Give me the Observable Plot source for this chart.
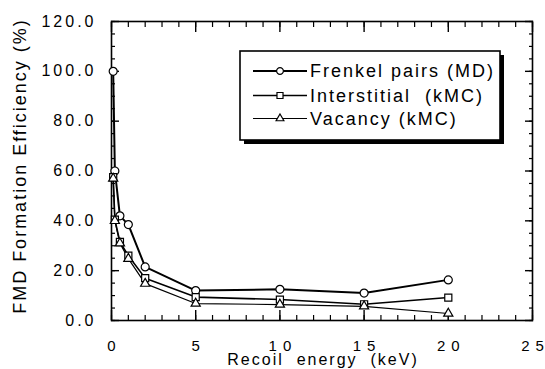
<!DOCTYPE html>
<html>
<head>
<meta charset="utf-8">
<script src="https://cdn.jsdelivr.net/npm/d3@7"></script>
<script src="https://cdn.jsdelivr.net/npm/@observablehq/plot@0.6"></script>
<style>
  html, body { margin: 0; padding: 0; background: #fff; }
  #chart svg { display: block; font-family: "Liberation Sans", Arial, sans-serif; }
</style>
</head>
<body>
<div id="chart"></div>
<script>
// Recoil energies (keV) at which efficiencies were computed
const energies = [0.1, 0.2, 0.5, 1, 2, 5, 10, 15, 20];

// Formation efficiency (%) per series
const frenkelMD = [100, 60, 42, 38.5, 21.5, 12, 12.5, 11, 16.3];
const interstitialKMC = [57.5, 40.5, 31.5, 26, 17, 9.4, 8.4, 6.5, 9.2];
const vacancyKMC = [57, 40, 31, 24.8, 14.8, 6.8, 6.4, 5.7, 2.8];

const seriesNames = ["Frenkel pairs (MD)", "Interstitial  (kMC)", "Vacancy (kMC)"];
const seriesValues = [frenkelMD, interstitialKMC, vacancyKMC];
const seriesSymbols = ["circle", "square", "triangle"];
const seriesWidths = [2, 1.6, 1.2];
const seriesRadii = [4, 4, 3.4];

const xTickLabels = [0, 5, 10, 15, 20, 25];
const yTickLabels = [0, 20, 40, 60, 80, 100, 120];

const rows = seriesNames.flatMap((name, i) =>
  energies.map((e, j) => ({series: name, energy: e, value: seriesValues[i][j], k: i}))
);

const plot = Plot.plot({
  width: 545,
  height: 369,
  marginLeft: 111,
  marginRight: 13,
  marginTop: 21,
  marginBottom: 49,
  x: {domain: [0, 25]},
  y: {domain: [0, 120]},
  style: {fontFamily: "'Liberation Sans', Arial, sans-serif", background: "white"},
  marks: [
    // inward minor and major ticks on all four sides
    Plot.axisX({anchor: "bottom", ticks: d3.range(0, 26, 1), tickSize: -5, text: null, label: null, strokeWidth: 1.2}),
    Plot.axisX({anchor: "bottom", ticks: xTickLabels, tickSize: -10, text: null, label: null, strokeWidth: 1.4}),
    Plot.axisX({anchor: "top", ticks: d3.range(0, 26, 1), tickSize: -5, text: null, label: null, strokeWidth: 1.2}),
    Plot.axisX({anchor: "top", ticks: xTickLabels, tickSize: -10, text: null, label: null, strokeWidth: 1.4}),
    Plot.axisY({anchor: "left", ticks: d3.range(0, 121, 5), tickSize: -4, text: null, label: null, strokeWidth: 1.2}),
    Plot.axisY({anchor: "left", ticks: yTickLabels, tickSize: -8, text: null, label: null, strokeWidth: 1.4}),
    Plot.axisY({anchor: "right", ticks: d3.range(0, 121, 5), tickSize: -4, text: null, label: null, strokeWidth: 1.2}),
    Plot.axisY({anchor: "right", ticks: yTickLabels, tickSize: -8, text: null, label: null, strokeWidth: 1.4}),
    // tick labels
    Plot.axisX({anchor: "bottom", ticks: xTickLabels, tickSize: 0, tickPadding: 20,
      tickFormat: d => String(d), label: null, fontSize: 15}),
    Plot.axisY({anchor: "left", ticks: yTickLabels, tickSize: 0, tickPadding: 15,
      tickFormat: d3.format(".1f"), label: null, fontSize: 16}),
    Plot.frame({stroke: "black", strokeWidth: 1.6}),
    // series lines then open markers
    Plot.line(rows, {x: "energy", y: "value", z: "series", stroke: "black",
      strokeWidth: d => seriesWidths[d.k]}),
    Plot.dot(rows, {x: "energy", y: "value", symbol: d => seriesSymbols[d.k], r: d => seriesRadii[d.k],
      fill: "white", stroke: "black", strokeWidth: 1.2}),
    // axis titles
    Plot.text(["Recoil  energy  (keV)"], {frameAnchor: "bottom", dx: 1, dy: 39.5, fontSize: 16,
      textAnchor: "middle", lineAnchor: "middle", fill: "black"}),
    Plot.text(["FMD Formation Efficiency (%)"], {frameAnchor: "left", dx: -91.5, dy: -5, rotate: -90,
      fontSize: 18, textAnchor: "middle", lineAnchor: "middle", fill: "black"})
  ],
  r: {type: "identity"},
  symbol: {domain: seriesSymbols, range: seriesSymbols}
});

document.getElementById("chart").appendChild(plot);

// widen the lettering of titles and tick labels
const svg = d3.select(plot);
svg.selectAll("text").style("white-space", "pre");
svg.selectAll("g[aria-label='text'] text").style("letter-spacing", "2px");
// two-digit energy labels: open a gap between the digits
svg.selectAll("text").filter(function () {
  return /^\d\d$/.test(this.textContent);
}).each(function () {
  const s = this.textContent;
  const t = d3.select(this).text(null);
  t.append("tspan").text(s[0]);
  t.append("tspan").attr("dx", 6).text(s[1]);
});
svg.selectAll("text").filter(function () {
  return /^\d+\.\d$/.test(this.textContent);
}).style("letter-spacing", "3px");

// legend box with drop shadow
const lg = svg.append("g").attr("class", "legend").attr("text-anchor", "start");
const box = {x: 240, y: 51, w: 260, h: 89};
lg.append("rect").attr("x", box.x + 4).attr("y", box.y + 4).attr("width", box.w).attr("height", box.h)
  .attr("fill", "black");
lg.append("rect").attr("x", box.x).attr("y", box.y).attr("width", box.w).attr("height", box.h)
  .attr("fill", "white").attr("stroke", "black").attr("stroke-width", 1.6);

const rowY = [71, 95.5, 118.5];
const symTypes = {circle: d3.symbolCircle, square: d3.symbolSquare, triangle: d3.symbolTriangle};
seriesNames.forEach((name, i) => {
  const g = lg.append("g").attr("transform", `translate(0,${rowY[i]})`);
  g.append("line").attr("x1", 253).attr("x2", 307).attr("y1", 0).attr("y2", 0)
    .attr("stroke", "black").attr("stroke-width", seriesWidths[i]);
  const rr = seriesRadii[i] * 0.85;
  g.append("path").attr("transform", "translate(280,0)")
    .attr("d", d3.symbol(symTypes[seriesSymbols[i]], rr * rr * Math.PI)())
    .attr("fill", "white").attr("stroke", "black").attr("stroke-width", 1.2);
  g.append("text").attr("x", 310).attr("y", 0).attr("dy", "0.35em")
    .attr("text-anchor", "start")
    .attr("font-size", 18).attr("fill", "black")
    .style("letter-spacing", "2px").style("white-space", "pre")
    .text(name);
});
</script>
</body>
</html>
